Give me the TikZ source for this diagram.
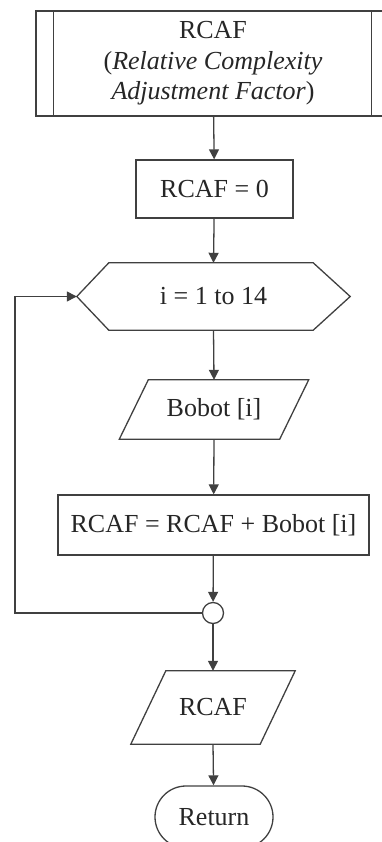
\documentclass[tikz,border=0pt]{standalone}
\usepackage{fontspec}
\setmainfont{Liberation Serif}
\usetikzlibrary{arrows.meta,shapes.misc}

\begin{document}
\begin{tikzpicture}[x=1pt,y=1pt,
        garis/.style={draw=black!75,line width=1.3pt},
        kotak/.style={garis,rectangle,inner sep=0pt},
        panah/.style={garis,-{Triangle[length=10pt,width=10pt]}},
        every node/.style={text=black!85,font=\fontsize{26}{30.5}\selectfont}]
                \useasboundingbox (0,0) rectangle (382,-842);
                \node[kotak,minimum width=354,minimum height=105,align=center] (awal) at (213,-63.5)
                    {RCAF\\(\textit{Relative Complexity}\\\textit{Adjustment Factor})};
                \draw[garis] ([xshift=18]awal.north west) -- ([xshift=18]awal.south west);
                \draw[garis] ([xshift=-19]awal.north east) -- ([xshift=-19]awal.south east);
                \node[kotak,minimum width=157,minimum height=58] (nol) at (214.5,-189) {RCAF = 0};
                \node[minimum width=273,minimum height=67,inner sep=0pt] (ulang) at (213.5,-296.5) {i = 1 to 14};
                \draw[garis] (ulang.west) -- ([xshift=32]ulang.north west) -- ([xshift=-37]ulang.north east)
                    -- (ulang.east) -- ([xshift=-37]ulang.south east) -- ([xshift=32]ulang.south west) -- cycle;
                \node[minimum width=160,minimum height=59,inner sep=0pt] (beban) at (214,-409.5) {Bobot [i]};
                \draw[garis] ([xshift=14.5]beban.north west) -- ([xshift=14.5]beban.north east)
                    -- ([xshift=-14.5]beban.south east) -- ([xshift=-14.5]beban.south west) -- cycle;
                \node[kotak,minimum width=311,minimum height=60] (jumlah) at (213.5,-525) {RCAF = RCAF + Bobot [i]};
                \node[garis,circle,minimum size=21,inner sep=0pt] (titik) at (213,-613) {};
                \node[minimum width=129,minimum height=73,inner sep=0pt] (hasil) at (213,-707.5) {RCAF};
                \draw[garis] ([xshift=17.5]hasil.north west) -- ([xshift=17.5]hasil.north east)
                    -- ([xshift=-17.5]hasil.south east) -- ([xshift=-17.5]hasil.south west) -- cycle;
                \node[garis,rounded rectangle,minimum width=118,minimum height=62,inner sep=0pt] (selesai) at (214,-817) {Return};
                \coordinate (kiri) at (15,-613);
                \draw[panah] (awal) -- (nol);
                \draw[panah] (nol) -- (ulang.north);
                \draw[panah] (ulang.south) -- (beban.north);
                \draw[panah] (beban.south) -- (jumlah);
                \draw[panah] (jumlah) -- (titik);
                \draw[panah] (titik) -- (hasil.north);
                \draw[panah] (hasil.south) -- (selesai);
                \draw[panah] (titik.west) -- (kiri) |- (ulang.west);
\end{tikzpicture}
\end{document}
